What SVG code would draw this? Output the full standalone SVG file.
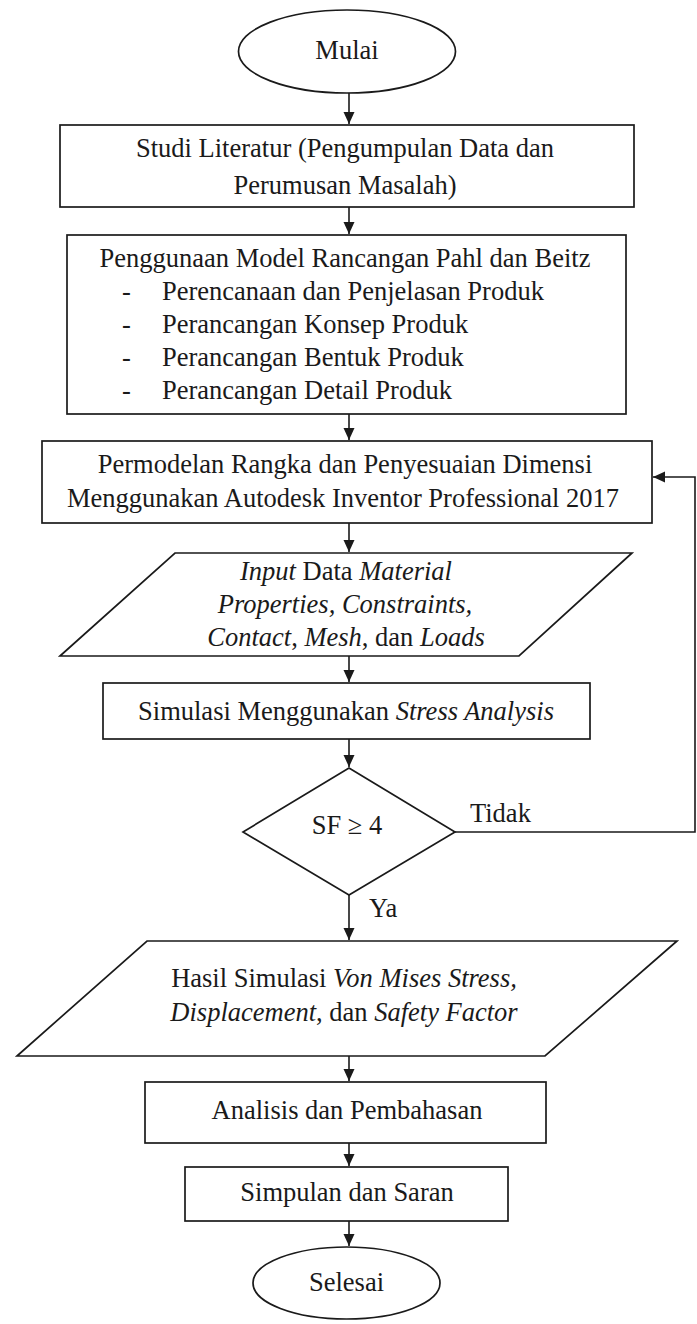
<svg xmlns="http://www.w3.org/2000/svg" width="697" height="1324" viewBox="0 0 697 1324">
<style>
.s{fill:#fff;stroke:#1a1a1a;stroke-width:1.7}
.t{font-family:"Liberation Serif","Times New Roman",serif;font-size:26.5px;fill:#1a1a1a}
.c{text-anchor:middle}
.i{font-style:italic}
.e{fill:none;stroke:#1a1a1a;stroke-width:1.6}
</style>
<defs>
<marker id="ah" markerUnits="userSpaceOnUse" markerWidth="12" markerHeight="12" refX="12" refY="5.5" orient="auto">
<path d="M0,0 L12,5.5 L0,11 z" fill="#1a1a1a"/>
</marker>
</defs>
<rect width="697" height="1324" fill="#fff"/>
<g id="connectors">
<line class="e" x1="349" y1="93" x2="349" y2="124" marker-end="url(#ah)"/>
<line class="e" x1="349" y1="207" x2="349" y2="234" marker-end="url(#ah)"/>
<line class="e" x1="349" y1="414" x2="349" y2="440" marker-end="url(#ah)"/>
<line class="e" x1="349" y1="523" x2="349" y2="552" marker-end="url(#ah)"/>
<line class="e" x1="349" y1="656" x2="349" y2="682" marker-end="url(#ah)"/>
<line class="e" x1="349" y1="739" x2="349" y2="767" marker-end="url(#ah)"/>
<line class="e" x1="349" y1="895" x2="349" y2="940" marker-end="url(#ah)"/>
<line class="e" x1="349" y1="1056" x2="349" y2="1081" marker-end="url(#ah)"/>
<line class="e" x1="349" y1="1143" x2="349" y2="1166" marker-end="url(#ah)"/>
<line class="e" x1="349" y1="1221" x2="349" y2="1246" marker-end="url(#ah)"/>
<polyline class="e" points="455,832 695,832 695,477 653,477" marker-end="url(#ah)"/>
<text class="t" x="470" y="822">Tidak</text>
<text class="t" x="369" y="917">Ya</text>
</g>
<g id="mulai">
<ellipse class="s" cx="347" cy="51.5" rx="108.5" ry="41.5"/>
<text class="t c" x="347" y="59">Mulai</text>
</g>
<g id="studi">
<rect class="s" x="60" y="125" width="574" height="82"/>
<text class="t c" x="345" y="157">Studi Literatur (Pengumpulan Data dan</text>
<text class="t c" x="345" y="194">Perumusan Masalah)</text>
</g>
<g id="penggunaan">
<rect class="s" x="67" y="235" width="559" height="179"/>
<text class="t c" x="345" y="267">Penggunaan Model Rancangan Pahl dan Beitz</text>
<text class="t" x="122" y="300">-</text>
<text class="t" x="162" y="300">Perencanaan dan Penjelasan Produk</text>
<text class="t" x="122" y="333">-</text>
<text class="t" x="162" y="333">Perancangan Konsep Produk</text>
<text class="t" x="122" y="366">-</text>
<text class="t" x="162" y="366">Perancangan Bentuk Produk</text>
<text class="t" x="122" y="399">-</text>
<text class="t" x="162" y="399">Perancangan Detail Produk</text>
</g>
<g id="permodelan">
<rect class="s" x="42" y="441" width="610" height="82"/>
<text class="t c" x="345" y="473">Permodelan Rangka dan Penyesuaian Dimensi</text>
<text class="t c" x="343" y="507">Menggunakan Autodesk Inventor Professional 2017</text>
</g>
<g id="input">
<polygon class="s" points="175,553 632,553 519,656 60,656"/>
<text class="t c" x="346" y="580"><tspan class="i">Input</tspan> Data <tspan class="i">Material</tspan></text>
<text class="t c i" x="345" y="613">Properties, Constraints,</text>
<text class="t c" x="346" y="646"><tspan class="i">Contact</tspan>, <tspan class="i">Mesh</tspan>, dan <tspan class="i">Loads</tspan></text>
</g>
<g id="simulasi">
<rect class="s" x="103" y="683" width="487" height="56"/>
<text class="t c" x="346" y="720">Simulasi Menggunakan <tspan class="i">Stress Analysis</tspan></text>
</g>
<g id="keputusan">
<polygon class="s" points="349,768 455,832 349,895 243,832"/>
<text class="t c" x="347" y="834">SF ≥ 4</text>
</g>
<g id="hasil">
<polygon class="s" points="147,941 677,941 545,1056 17,1056"/>
<text class="t c" x="344" y="987">Hasil Simulasi <tspan class="i">Von Mises Stress,</tspan></text>
<text class="t c" x="344" y="1021"><tspan class="i">Displacement</tspan>, dan <tspan class="i">Safety Factor</tspan></text>
</g>
<g id="analisis">
<rect class="s" x="145" y="1082" width="401" height="61"/>
<text class="t c" x="347" y="1119">Analisis dan Pembahasan</text>
</g>
<g id="simpulan">
<rect class="s" x="185" y="1167" width="323" height="54"/>
<text class="t c" x="347" y="1201">Simpulan dan Saran</text>
</g>
<g id="selesai">
<ellipse class="s" cx="346.5" cy="1283" rx="93.5" ry="36"/>
<text class="t c" x="346.5" y="1291">Selesai</text>
</g>
</svg>
